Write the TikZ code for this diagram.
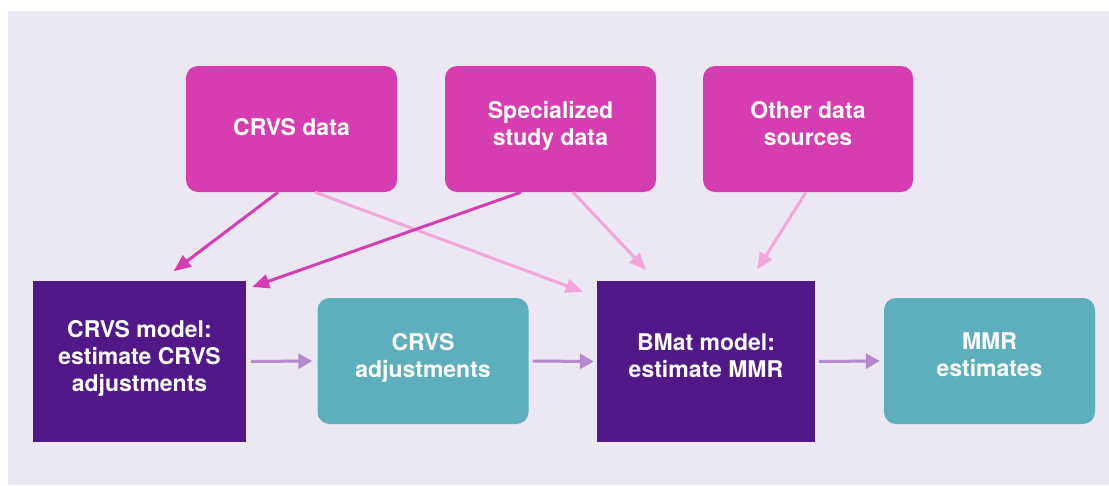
\documentclass[tikz,border=0pt]{standalone}
\usepackage{fontspec}
\setmainfont{TeX Gyre Heros}
\usetikzlibrary{arrows.meta}
\definecolor{bgcol}{HTML}{EBE8F3}
\definecolor{srccol}{HTML}{D63DB0}
\definecolor{modelcol}{HTML}{521887}
\definecolor{outcol}{HTML}{5DAFBD}
\definecolor{pinkcol}{HTML}{F3A6D9}
\definecolor{flowcol}{HTML}{B38ACB}

\begin{document}
\begin{tikzpicture}[x=1pt,y=-1pt,
  last depth/.store in=\lastdepth, last depth=12pt,
  srcbox/.style={fill=srccol, rounded corners=12pt, minimum width=211pt, minimum height=126pt,
    text=white, font=\fontsize{23}{27}\selectfont\bfseries, align=center, inner sep=0pt,
    execute at begin node={\rule{0pt}{17pt}},
    execute at end node={\rule[-\lastdepth]{0pt}{\lastdepth}}},
  modelbox/.style={srcbox, fill=modelcol, sharp corners, minimum width=213pt, minimum height=161pt},
  outbox/.style={srcbox, fill=outcol},
  feed/.style={draw=srccol, line width=3pt, -{Triangle[length=17pt,width=14pt]}},
  weakfeed/.style={feed, draw=pinkcol},
  flow/.style={draw=flowcol, line width=3pt, -{Triangle[length=14pt,width=15pt]}}]
\useasboundingbox (0,0) rectangle (1109,485);
\fill[bgcol] (8,11) rectangle (1109,485);
% data sources
\node[srcbox, last depth=5pt] (crvsdata) at (291.5,129) {CRVS data};
\node[srcbox] (study) at (550.5,129) {Specialized\\study data};
\node[srcbox, minimum width=210pt] (other) at (808,129) {Other data\\sources};
% models and outputs
\node[modelbox] (crvsmodel) at (139.5,361.5) {CRVS model:\\estimate CRVS\\adjustments};
\node[outbox] (adjust) at (423,361) {CRVS\\adjustments};
\node[modelbox, minimum width=218pt] (bmat) at (706,361.5) {BMat model:\\estimate MMR};
\node[outbox] (mmr) at (989.5,361) {MMR\\estimates};
% inputs
\draw[weakfeed, shorten >=15pt] ([xshift=23.5pt]crvsdata.south) -- ([yshift=64.5pt]bmat.west);
\draw[weakfeed, shorten >=15pt] ([xshift=22.5pt]study.south) -- ([xshift=-49.7pt]bmat.north);
\draw[weakfeed, shorten >=13pt] ([xshift=-2pt]other.south) -- ([xshift=44.1pt]bmat.north);
\draw[feed, shorten >=16pt] ([xshift=-13.5pt]crvsdata.south) -- ([xshift=21.5pt]crvsmodel.north);
\draw[feed, shorten >=6.4pt] ([xshift=-29.5pt]study.south) -- ([yshift=72.4pt]crvsmodel.east);
% main flow
\draw[flow, shorten <=5pt, shorten >=5pt] (crvsmodel.east) -- (adjust.west);
\draw[flow, shorten <=4pt, shorten >=3pt] (adjust.east) -- (bmat.west);
\draw[flow, shorten <=4pt, shorten >=4pt] (bmat.east) -- (mmr.west);
\end{tikzpicture}
\end{document}
